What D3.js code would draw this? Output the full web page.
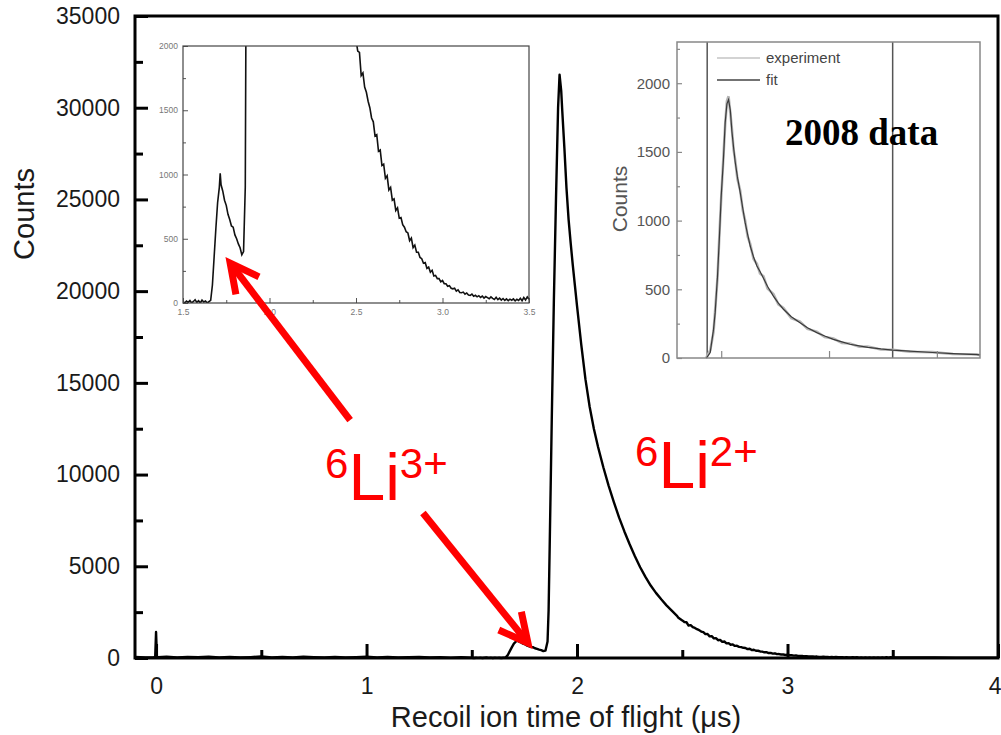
<!DOCTYPE html>
<html>
<meta charset="utf-8">
<style>
  body { margin: 0; background: #fff; }
  svg { display: block; font-family: "Liberation Sans", Arial, sans-serif; }
  .main-axis text { font-size: 23px; fill: #1a1a1a; }
  .main-axis line { stroke: #000; stroke-width: 3; }
  .ax-title { font-size: 29px; fill: #1a1a1a; }
  .inset1 text { font-size: 8.5px; fill: #777; }
  .inset1 line { stroke: #555; stroke-width: 1; }
  .inset2 text { font-size: 15px; fill: #555; }
  .inset2 line { stroke: #888; stroke-width: 1.2; }
  .ion { fill: #ff0000; }
</style>
<script src="https://d3js.org/d3.v7.min.js"></script>
<body>
<script>
// recoil ion TOF spectrum: [time of flight (us), counts]
var mainSpectrum = [
  [-0.10, 60], [-0.05, 30], [-0.01, 50], [-0.004, 80], [0.0, 1420], [0.004, 90], [0.01, 40],
  [0.05, 70], [0.10, 30], [0.15, 55], [0.20, 40], [0.25, 75], [0.30, 35], [0.35, 60],
  [0.40, 30], [0.45, 50], [0.50, 80], [0.55, 35], [0.60, 55], [0.65, 30], [0.70, 65],
  [0.75, 40], [0.80, 25], [0.85, 60], [0.90, 35], [0.95, 50], [1.00, 70], [1.05, 30],
  [1.10, 55], [1.15, 25], [1.20, 45], [1.25, 60], [1.30, 30], [1.35, 50], [1.40, 20], [1.45, 40],
  [1.50, 10], [1.51, 0], [1.52, 15], [1.53, 5], [1.54, 20], [1.55, 0], [1.56, 12], [1.57, 25],
  [1.58, 5], [1.59, 18], [1.60, 0], [1.61, 22], [1.62, 8], [1.63, 15], [1.64, 0], [1.65, 10],
  [1.66, 20], [1.67, 140], [1.68, 360], [1.69, 580], [1.70, 780], [1.71, 900], [1.715, 1010],
  [1.72, 920], [1.73, 870], [1.74, 800], [1.75, 760], [1.76, 690], [1.77, 650], [1.78, 600],
  [1.79, 590], [1.80, 530], [1.81, 500], [1.82, 460], [1.83, 430], [1.84, 375], [1.85, 400],
  [1.86, 900], [1.865, 2600], [1.87, 6000], [1.88, 13000], [1.89, 19500], [1.90, 25000],
  [1.91, 30000], [1.917, 31800], [1.925, 30900], [1.93, 29800], [1.94, 27800], [1.95, 25600],
  [1.96, 23900], [1.97, 22600], [1.98, 21400], [1.99, 20300], [2.00, 19200], [2.02, 17100],
  [2.04, 15200], [2.06, 13700], [2.08, 12500], [2.10, 11500], [2.125, 10400], [2.15, 9400],
  [2.175, 8500], [2.20, 7650], [2.225, 6900], [2.25, 6200], [2.275, 5550], [2.30, 4950],
  [2.325, 4420], [2.35, 3950], [2.375, 3550], [2.40, 3200], [2.425, 2870], [2.45, 2580],
  [2.475, 2300], [2.48, 2210], [2.49, 2130],
  [2.50, 2050], [2.51, 1960], [2.52, 1950], [2.53, 1770], [2.54, 1790], [2.55, 1680], [2.56, 1640],
  [2.57, 1570], [2.58, 1520], [2.59, 1440], [2.60, 1410], [2.61, 1300], [2.62, 1310], [2.63, 1180],
  [2.64, 1190], [2.65, 1070], [2.66, 1080], [2.67, 970], [2.68, 990], [2.69, 880], [2.70, 900],
  [2.71, 800], [2.72, 810], [2.73, 720], [2.74, 740], [2.75, 660], [2.76, 665], [2.77, 610],
  [2.78, 590], [2.79, 555], [2.80, 545], [2.81, 485], [2.82, 505], [2.83, 430], [2.84, 450],
  [2.85, 395], [2.86, 395], [2.87, 355], [2.88, 345], [2.89, 310], [2.90, 315], [2.91, 270],
  [2.92, 280], [2.93, 240], [2.94, 255], [2.95, 210], [2.96, 215], [2.97, 190], [2.98, 190],
  [2.99, 165], [3.00, 175], [3.01, 150], [3.02, 150], [3.03, 130], [3.04, 135], [3.05, 115],
  [3.06, 110], [3.07, 115], [3.08, 92], [3.09, 102], [3.10, 82], [3.11, 80], [3.12, 85],
  [3.13, 68], [3.14, 78], [3.15, 62], [3.16, 60], [3.17, 70], [3.18, 52], [3.19, 60], [3.20, 48],
  [3.21, 57], [3.22, 43], [3.23, 54], [3.24, 38], [3.25, 50], [3.26, 42], [3.27, 33], [3.28, 47],
  [3.29, 36], [3.30, 28], [3.31, 44], [3.32, 26], [3.33, 38], [3.34, 23], [3.35, 35], [3.36, 20],
  [3.37, 32], [3.38, 18], [3.39, 30], [3.40, 22], [3.41, 32], [3.42, 16], [3.43, 29], [3.44, 20],
  [3.45, 37], [3.46, 18], [3.47, 42], [3.48, 23], [3.49, 47], [3.50, 30],
  [3.60, 25], [3.70, 30], [3.80, 18], [3.90, 22], [4.00, 15]
];

var mainXTicks = [0, 1, 2, 3, 4];
var mainXMinor = [0.5, 1.5, 2.5, 3.5];
var mainYTicks = [0, 5000, 10000, 15000, 20000, 25000, 30000, 35000];
var mainYMinor = [2500, 7500, 12500, 17500, 22500, 27500, 32500];

var inset1XTicks = [1.5, 2.0, 2.5, 3.0, 3.5];
var inset1XMinor = [1.75, 2.25, 2.75, 3.25];
var inset1YTicks = [0, 500, 1000, 1500, 2000];
var inset1YMinor = [250, 750, 1250, 1750];

// 2008 data inset
var inset2Tof = [1.86, 1.868, 1.898, 1.929, 1.944, 1.966, 1.984, 2.00, 2.021, 2.037, 2.053, 2.068,
  2.085, 2.099, 2.115, 2.13, 2.15, 2.176, 2.20, 2.222, 2.245, 2.269, 2.30, 2.331, 2.36, 2.392,
  2.43, 2.484, 2.53, 2.577, 2.65, 2.731, 2.80, 2.886, 2.96, 3.04, 3.12, 3.194, 3.28, 3.36, 3.48,
  3.59, 3.75, 3.96, 4.15, 4.37, 4.40];
var inset2Experiment = [0, 12, 55, 190, 350, 585, 910, 1165, 1470, 1700, 1870, 1905, 1780, 1670,
  1515, 1440, 1305, 1220, 1075, 1000, 885, 830, 720, 685, 615, 595, 505, 465, 390, 365, 290, 265,
  212, 192, 153, 142, 110, 105, 82, 83, 62, 60, 46, 43, 29, 27, 20];
var inset2Fit = [0, 5, 40, 210, 330, 600, 890, 1180, 1450, 1715, 1850, 1880, 1800, 1650, 1530,
  1425, 1320, 1205, 1090, 985, 900, 815, 735, 670, 630, 580, 520, 450, 400, 355, 300, 257, 220,
  185, 160, 136, 117, 100, 88, 78, 66, 58, 50, 40, 32, 24, 23];
var inset2Markers = [1.87, 3.59];
var inset2XTicks = [2, 3, 4];
var inset2YTicks = [0, 500, 1000, 1500, 2000];
var inset2YMinor = [250, 750, 1250, 1750, 2250];
var legendNames = ["experiment", "fit"];

// annotations in data units [tof, counts]
var arrows = [
  { tail: [0.922, 12975], tip: [0.352, 21534] },
  { tail: [1.268, 7905], tip: [1.767, 818] }
];
var ionLabels = [
  { at: [0.803, 8614], sup: "6", base: "Li", charge: "3+" },
  { at: [2.276, 9268], sup: "6", base: "Li", charge: "2+" }
];

var W = 1001, H = 735;
var svg = d3.select("body").append("svg").attr("width", W).attr("height", H);

var x = d3.scaleLinear().domain([-0.1, 4]).range([135, 998]);
var y = d3.scaleLinear().domain([0, 35000]).range([658, 16]);

var line = d3.line().x(function(d){ return x(d[0]); }).y(function(d){ return y(d[1]); });

svg.append("path")
  .datum(mainSpectrum)
  .attr("d", line)
  .attr("fill", "none")
  .attr("stroke", "#000")
  .attr("stroke-width", 2.4)
  .attr("stroke-linejoin", "round");

// axes
function noDomain(g){ g.select(".domain").remove(); }

svg.append("g").attr("class", "main-axis").attr("transform", "translate(135,0)")
  .call(d3.axisLeft(y).tickValues(mainYTicks).tickSize(-13).tickPadding(15).tickFormat(d3.format("d")))
  .call(noDomain);
svg.append("g").attr("class", "main-axis").attr("transform", "translate(135,0)")
  .call(d3.axisLeft(y).tickValues(mainYMinor).tickSize(-8).tickFormat(""))
  .call(noDomain);
svg.append("g").attr("class", "main-axis").attr("transform", "translate(0,658)")
  .call(d3.axisBottom(x).tickValues(mainXTicks).tickSize(-14).tickPadding(20).tickFormat(d3.format("d")))
  .call(noDomain)
  .call(function(g){
    // last label sits on the right edge: keep it inside the page
    g.selectAll(".tick text").filter(function(d){ return d === 4; }).attr("text-anchor", "end").attr("x", 3);
  });
svg.append("g").attr("class", "main-axis").attr("transform", "translate(0,658)")
  .call(d3.axisBottom(x).tickValues(mainXMinor).tickSize(-8).tickFormat(""))
  .call(noDomain);

svg.append("rect")
  .attr("x", 135).attr("y", 16).attr("width", 998 - 135).attr("height", 658 - 16)
  .attr("fill", "none").attr("stroke", "#000").attr("stroke-width", 3);

svg.append("text").attr("class", "ax-title")
  .attr("x", 566).attr("y", 727).attr("text-anchor", "middle")
  .text("Recoil ion time of flight (\u03bcs)");
svg.append("text").attr("class", "ax-title")
  .attr("transform", "translate(34,214) rotate(-90)").attr("text-anchor", "middle")
  .text("Counts");

// ---- inset 1: zoom of the low-count region ----
var b1 = { l: 183, t: 46, r: 529, b: 303 };
var x1 = d3.scaleLinear().domain([1.5, 3.5]).range([b1.l, b1.r]);
var y1 = d3.scaleLinear().domain([0, 2000]).range([b1.b, b1.t]);
var in1 = svg.append("g").attr("class", "inset1");
in1.append("rect").attr("x", b1.l).attr("y", b1.t).attr("width", b1.r - b1.l).attr("height", b1.b - b1.t)
  .attr("fill", "#fff");
svg.append("clipPath").attr("id", "clip1").append("rect")
  .attr("x", b1.l).attr("y", b1.t).attr("width", b1.r - b1.l).attr("height", b1.b - b1.t);
in1.append("path")
  .datum(mainSpectrum.filter(function(d){ return d[0] >= 1.5 && d[0] <= 3.5; }))
  .attr("clip-path", "url(#clip1)")
  .attr("d", d3.line().x(function(d){ return x1(d[0]); }).y(function(d){ return y1(d[1]); }))
  .attr("fill", "none").attr("stroke", "#111").attr("stroke-width", 1.6);
in1.append("g").attr("transform", "translate(" + b1.l + ",0)")
  .call(d3.axisLeft(y1).tickValues(inset1YTicks).tickSize(-5).tickPadding(5).tickFormat(d3.format("d")))
  .call(noDomain);
in1.append("g").attr("transform", "translate(" + b1.l + ",0)")
  .call(d3.axisLeft(y1).tickValues(inset1YMinor).tickSize(-3).tickFormat(""))
  .call(noDomain);
in1.append("g").attr("transform", "translate(0," + b1.b + ")")
  .call(d3.axisBottom(x1).tickValues(inset1XTicks).tickSize(-5).tickPadding(6).tickFormat(d3.format(".1f")))
  .call(noDomain);
in1.append("g").attr("transform", "translate(0," + b1.b + ")")
  .call(d3.axisBottom(x1).tickValues(inset1XMinor).tickSize(-3).tickFormat(""))
  .call(noDomain);
in1.append("rect").attr("x", b1.l).attr("y", b1.t).attr("width", b1.r - b1.l).attr("height", b1.b - b1.t)
  .attr("fill", "none").attr("stroke", "#444").attr("stroke-width", 1.2);

// ---- inset 2: 2008 data with fit ----
var b2 = { l: 677, t: 42, r: 980, b: 358 };
var x2 = d3.scaleLinear().domain([1.59, 4.4]).range([b2.l, b2.r]);
var y2 = d3.scaleLinear().domain([0, 2300]).range([b2.b, b2.t]);
var in2 = svg.append("g").attr("class", "inset2");
in2.append("rect").attr("x", b2.l).attr("y", b2.t).attr("width", b2.r - b2.l).attr("height", b2.b - b2.t)
  .attr("fill", "#fff");
in2.selectAll(".marker").data(inset2Markers).enter().append("line")
  .attr("x1", function(d){ return x2(d); }).attr("x2", function(d){ return x2(d); })
  .attr("y1", b2.t).attr("y2", b2.b)
  .style("stroke", "#555").style("stroke-width", 1.5);
var line2 = function(vals){
  return d3.line().x(function(d, i){ return x2(inset2Tof[i]); }).y(function(d){ return y2(d); })(vals);
};
in2.append("path").attr("d", line2(inset2Experiment))
  .attr("fill", "none").attr("stroke", "#b5b5b5").attr("stroke-width", 2.6);
in2.append("path").attr("d", line2(inset2Fit))
  .attr("fill", "none").attr("stroke", "#3a3a3a").attr("stroke-width", 1.2);
in2.append("g").attr("transform", "translate(" + b2.l + ",0)")
  .call(d3.axisLeft(y2).tickValues(inset2YTicks).tickSize(-5).tickPadding(7).tickFormat(d3.format("d")))
  .call(noDomain);
in2.append("g").attr("transform", "translate(" + b2.l + ",0)")
  .call(d3.axisLeft(y2).tickValues(inset2YMinor).tickSize(-3).tickFormat(""))
  .call(noDomain);
in2.append("g").attr("transform", "translate(0," + b2.b + ")")
  .call(d3.axisBottom(x2).tickValues(inset2XTicks).tickSize(-7).tickFormat(""))
  .call(noDomain);
in2.append("rect").attr("x", b2.l).attr("y", b2.t).attr("width", b2.r - b2.l).attr("height", b2.b - b2.t)
  .attr("fill", "none").attr("stroke", "#888").attr("stroke-width", 1.5);
in2.append("text").attr("transform", "translate(627,199) rotate(-90)").attr("text-anchor", "middle")
  .style("font-size", "21px").text("Counts");

var leg = in2.selectAll(".leg").data(legendNames).enter().append("g")
  .attr("transform", function(d, i){ return "translate(717," + (58 + i * 22) + ")"; });
leg.append("line").attr("x1", 0).attr("x2", 43)
  .style("stroke", function(d, i){ return i === 0 ? "#c4c4c4" : "#444"; })
  .style("stroke-width", function(d, i){ return i === 0 ? 1.5 : 1.6; });
leg.append("text").attr("x", 49).attr("dy", "0.35em").style("fill", "#444").text(function(d){ return d; });

svg.append("text")
  .attr("x", 785).attr("y", 145)
  .style("font-family", "'Liberation Serif', 'Times New Roman', serif")
  .style("font-weight", "bold").style("font-size", "37px").attr("fill", "#000")
  .text("2008 data");

// ---- red annotations ----
arrows.forEach(function(a){
  var x0 = x(a.tail[0]), y0 = y(a.tail[1]), xt = x(a.tip[0]), yt = y(a.tip[1]);
  var ang = Math.atan2(yt - y0, xt - x0), L = 32, spread = 27 * Math.PI / 180;
  var p1 = [xt - L * Math.cos(ang - spread), yt - L * Math.sin(ang - spread)];
  var p2 = [xt - L * Math.cos(ang + spread), yt - L * Math.sin(ang + spread)];
  svg.append("line").attr("x1", x0).attr("y1", y0)
    .attr("x2", xt - 4 * Math.cos(ang)).attr("y2", yt - 4 * Math.sin(ang))
    .attr("stroke", "#ff0000").attr("stroke-width", 7);
  svg.append("path").attr("d", "M" + p1 + "L" + [xt, yt] + "L" + p2)
    .attr("fill", "none").attr("stroke", "#ff0000").attr("stroke-width", 7)
    .attr("stroke-linejoin", "miter");
});

ionLabels.forEach(function(d){
  var t = svg.append("text").attr("class", "ion").attr("x", x(d.at[0])).attr("y", y(d.at[1]))
    .style("font-size", "66px");
  t.append("tspan").style("font-size", "42px").attr("dy", -22).text(d.sup);
  t.append("tspan").attr("dy", 22).text(d.base);
  t.append("tspan").style("font-size", "42px").attr("dy", -22).text(d.charge);
});
</script>
</body>
</html>
